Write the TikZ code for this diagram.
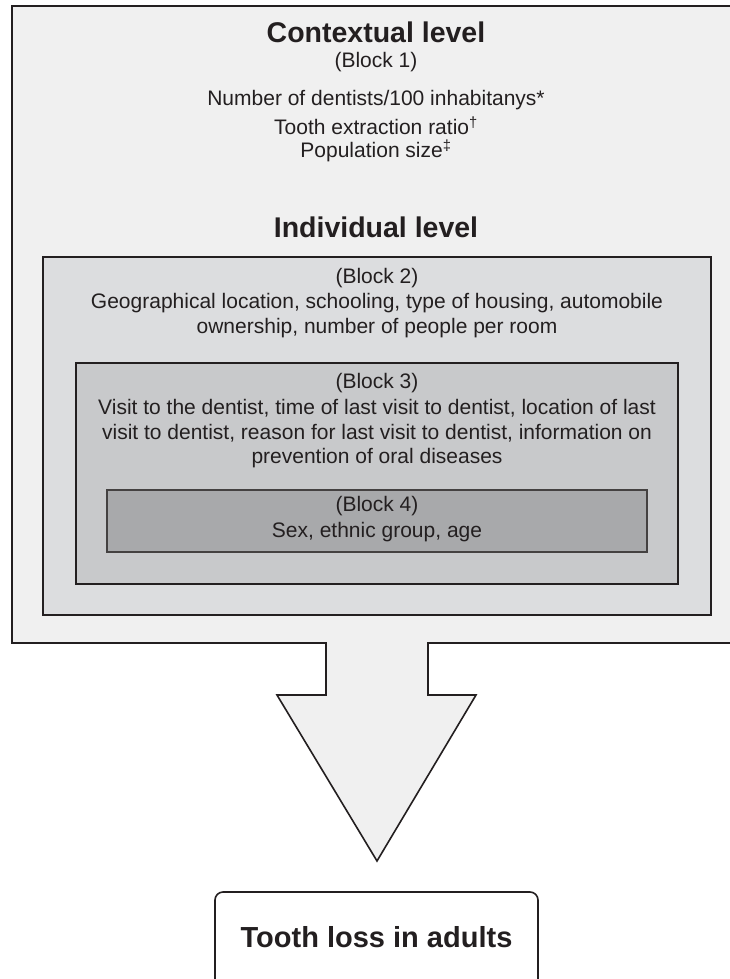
\documentclass[tikz,border=0pt]{standalone}
\usepackage{fontspec}
\setmainfont{Liberation Sans}
\definecolor{lvA}{HTML}{F0F0F0}
\definecolor{lvB}{HTML}{DCDDDF}
\definecolor{lvC}{HTML}{C8C9CB}
\definecolor{lvD}{HTML}{A8A9AB}
\definecolor{edge}{HTML}{231F20}
\begin{document}
\begin{tikzpicture}[x=1pt,y=-1pt,
  boxline/.style={draw=edge,line width=1.6pt},
  body/.style={inner sep=0pt,align=center,font=\fontsize{21}{25}\selectfont,text=edge},
  title/.style={inner sep=0pt,align=center,font=\fontsize{28.5}{32}\selectfont\bfseries,text=edge}]
\useasboundingbox (0,0) rectangle (730,979);
\clip (0,0) rectangle (730,979);
% outer block with arrow
\draw[boxline,fill=lvA,line join=miter]
  (12,6) -- (745,6) -- (745,643) -- (428,643) -- (428,695) -- (476,695)
  -- (377,861) -- (277,695) -- (326,695) -- (326,643) -- (12,643) -- cycle;
\draw[boxline,fill=lvB] (43,257) rectangle (711,615);
\draw[boxline,fill=lvC] (76,363) rectangle (678,584);
\draw[draw=edge!85,line width=1.3pt,fill=lvD] (107,490) rectangle (647,552);
% texts
\node[title] (ctx) at (376,32) {Contextual level};
\node[body] (b1) at (376,62) {(Block 1)};
\node[body] (b1a) at (376,100) {Number of dentists/100 inhabitanys*};
\node[body] (b1b) at (376,126) {Tooth extraction ratio\textsuperscript{†}};
\node[body] (b1c) at (376,151) {Population size\textsuperscript{‡}};
\node[title] (ind) at (376,227) {Individual level};
\node[body] (b2) at (377,278) {(Block 2)};
\node[body] (b2a) at (377,303) {Geographical location, schooling, type of housing, automobile};
\node[body] (b2b) at (377,328) {ownership, number of people per room};
\node[body] (b3) at (377,383) {(Block 3)};
\node[body] (b3a) at (377,408) {Visit to the dentist, time of last visit to dentist, location of last};
\node[body] (b3b) at (377,433) {visit to dentist, reason for last visit to dentist, information on};
\node[body] (b3c) at (377,458) {prevention of oral diseases};
\node[body] (b4) at (377,506) {(Block 4)};
\node[body] (b4a) at (377,532) {Sex, ethnic group, age};
% outcome
\draw[boxline,fill=white,rounded corners=8pt] (215,892) rectangle (538,1000);
\node[title,font=\fontsize{29}{32}\selectfont\bfseries] (out) at (376.5,937) {Tooth loss in adults};
\end{tikzpicture}
\end{document}
